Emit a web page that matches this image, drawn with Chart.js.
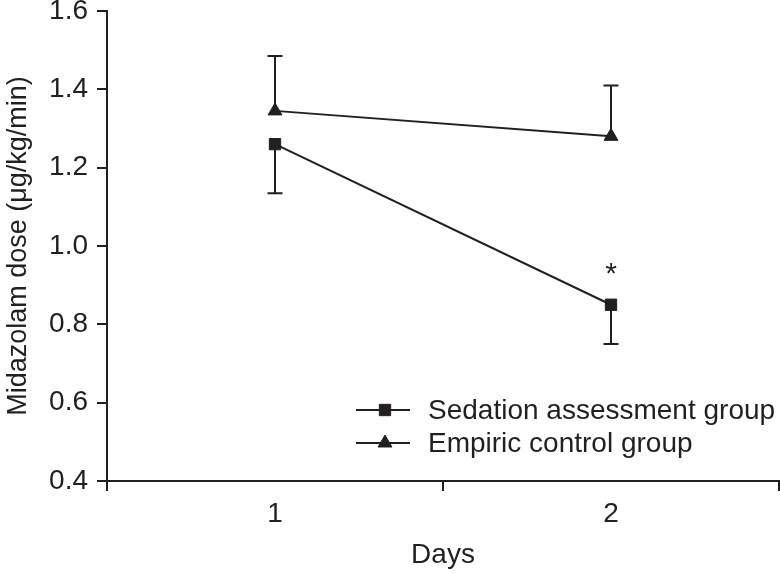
<!DOCTYPE html>
<html>
<head>
<meta charset="utf-8">
<script src="https://cdn.jsdelivr.net/npm/chart.js@4.4.1/dist/chart.umd.min.js"></script>
<style>
  html, body { margin: 0; padding: 0; background: #fff; }
  #wrap { width: 780px; height: 573px; }
</style>
</head>
<body>
<div id="wrap"><canvas id="chart" width="780" height="573"></canvas></div>
<script>
const days = ['1', '2'];
const sedationDose = [1.26, 0.85];
const sedationErrLower = [0.125, 0.10];
const empiricDose = [1.345, 1.28];
const empiricErrUpper = [0.14, 0.13];
const sedationMarks = ['', '*'];
const yTicks = [0.4, 0.6, 0.8, 1.0, 1.2, 1.4, 1.6];

const ink = '#231f20';
const fontFamily = '"Liberation Sans", Arial, Helvetica, sans-serif';

// error bars (one-sided) + significance star
const errorBars = {
    id: 'errorBars',
    beforeDatasetsDraw(chart) {
        const ctx = chart.ctx;
        const y = chart.scales.y;
        ctx.save();
        ctx.strokeStyle = ink;
        ctx.lineWidth = 2;
        chart.data.datasets.forEach((ds, i) => {
            const meta = chart.getDatasetMeta(i);
            meta.data.forEach((pt, j) => {
                const v = ds.data[j];
                const end = ds.errUpper ? v + ds.errUpper[j] : v - ds.errLower[j];
                const py = y.getPixelForValue(end);
                ctx.beginPath();
                ctx.moveTo(pt.x, pt.y);
                ctx.lineTo(pt.x, py);
                ctx.moveTo(pt.x - 7.5, py);
                ctx.lineTo(pt.x + 7.5, py);
                ctx.stroke();
            });
        });
        ctx.restore();
    },
    afterDatasetsDraw(chart) {
        const ctx = chart.ctx;
        const meta = chart.getDatasetMeta(0);
        ctx.save();
        ctx.fillStyle = ink;
        ctx.font = '30px ' + fontFamily;
        ctx.textAlign = 'center';
        ctx.textBaseline = 'alphabetic';
        sedationMarks.forEach((m, j) => {
            if (!m) return;
            const pt = meta.data[j];
            ctx.fillText(m, pt.x, pt.y - 22);
        });
        ctx.restore();
    }
};

function drawMarker(ctx, style, x, y, r) {
    ctx.beginPath();
    if (style === 'rect') {
        const s = Math.SQRT1_2 * r;
        ctx.rect(x - s, y - s, 2 * s, 2 * s);
    } else {
        let rad = 0;
        ctx.moveTo(x + Math.sin(rad) * r, y - Math.cos(rad) * r);
        rad += 2 * Math.PI / 3;
        ctx.lineTo(x + Math.sin(rad) * r, y - Math.cos(rad) * r);
        rad += 2 * Math.PI / 3;
        ctx.lineTo(x + Math.sin(rad) * r, y - Math.cos(rad) * r);
        ctx.closePath();
    }
    ctx.fill();
    ctx.stroke();
}

// legend with line-through-marker samples, inside plot area
const lineLegend = {
    id: 'lineLegend',
    afterDraw(chart) {
        const ctx = chart.ctx;
        const area = chart.chartArea;
        const x0 = area.right - 423;
        const y0 = area.bottom - 71;
        ctx.save();
        ctx.font = '28px ' + fontFamily;
        ctx.textBaseline = 'middle';
        ctx.textAlign = 'left';
        chart.data.datasets.forEach((ds, i) => {
            const yy = y0 + i * 33;
            ctx.strokeStyle = ink;
            ctx.fillStyle = ink;
            ctx.lineWidth = 2;
            ctx.beginPath();
            ctx.moveTo(x0, yy);
            ctx.lineTo(x0 + 54, yy);
            ctx.stroke();
            ctx.lineWidth = 1;
            drawMarker(ctx, ds.pointStyle, x0 + 29, yy, ds.pointRadius);
            ctx.fillText(ds.label, x0 + 72, yy + 1);
        });
        ctx.restore();
    }
};

new Chart(document.getElementById('chart'), {
    type: 'line',
    data: {
        labels: days,
        datasets: [
            {
                label: 'Sedation assessment group',
                data: sedationDose,
                errLower: sedationErrLower,
                borderColor: ink, backgroundColor: ink,
                borderWidth: 2, pointStyle: 'rect', pointRadius: 8,
                pointBorderWidth: 1, tension: 0
            },
            {
                label: 'Empiric control group',
                data: empiricDose,
                errUpper: empiricErrUpper,
                borderColor: ink, backgroundColor: ink,
                borderWidth: 2, pointStyle: 'triangle', pointRadius: 8,
                pointBorderWidth: 1, tension: 0
            }
        ]
    },
    options: {
        responsive: false,
        animation: false,
        layout: { autoPadding: false, padding: { top: 11, right: 1, left: 0, bottom: 0 } },
        plugins: { legend: { display: false }, tooltip: { enabled: false } },
        scales: {
            x: {
                type: 'category',
                offset: true,
                grid: { offset: true, drawOnChartArea: false, tickLength: 10, color: ink, lineWidth: 2 },
                border: { display: true, color: ink, width: 2 },
                ticks: { color: ink, padding: 6, font: { size: 28, family: fontFamily } },
                title: {
                    display: true, text: 'Days', color: ink,
                    font: { size: 28, family: fontFamily }, padding: { top: 0, bottom: 1 }
                },
                afterFit(scale) {
                    scale.height = 92;
                    scale.paddingLeft = 0;
                    scale.paddingRight = 0;
                }
            },
            y: {
                min: 0.4, max: 1.6,
                afterBuildTicks(scale) {
                    scale.ticks = yTicks.map(v => ({ value: v }));
                },
                grid: { drawOnChartArea: false, tickLength: 10, color: ink, lineWidth: 2 },
                border: { display: true, color: ink, width: 2 },
                ticks: {
                    color: ink, padding: 9, font: { size: 28, family: fontFamily },
                    callback: v => Number(v).toFixed(1)
                },
                title: {
                    display: true, text: 'Midazolam dose (μg/kg/min)', color: ink,
                    font: { size: 27, family: fontFamily }, padding: { top: 2, bottom: 0 }
                },
                afterFit(scale) {
                    scale.width = 107;
                    scale.paddingTop = 0;
                    scale.paddingBottom = 0;
                }
            }
        }
    },
    plugins: [errorBars, lineLegend]
});
</script>
</body>
</html>
